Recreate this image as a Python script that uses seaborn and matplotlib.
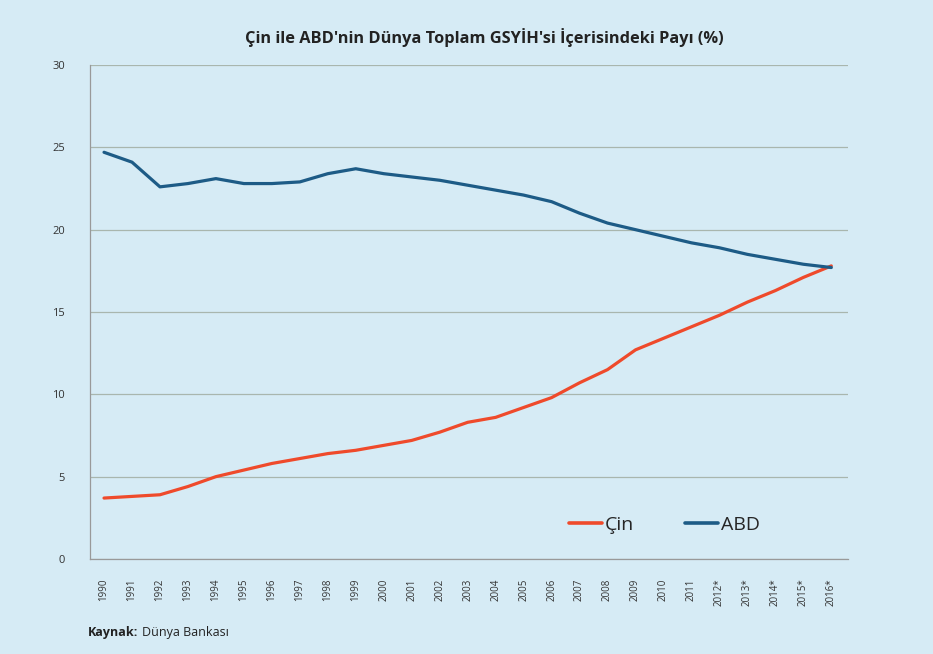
import pandas as pd
import seaborn as sns
import matplotlib.pyplot as plt
from matplotlib.lines import Line2D

# Data (share of world GDP, %)
years = list(range(1990, 2017))
year_labels = [str(y) for y in range(1990, 2012)] + ["2012*", "2013*", "2014*", "2015*", "2016*"]
cin = [3.7, 3.8, 3.9, 4.4, 5.0, 5.4, 5.8, 6.1, 6.4, 6.6, 6.9, 7.2, 7.7, 8.3, 8.6,
       9.2, 9.8, 10.7, 11.5, 12.7, 13.4, 14.1, 14.8, 15.6, 16.3, 17.1, 17.8]
abd = [24.7, 24.1, 22.6, 22.8, 23.1, 22.8, 22.8, 22.9, 23.4, 23.7, 23.4, 23.2, 23.0, 22.7, 22.4,
       22.1, 21.7, 21.0, 20.4, 20.0, 19.6, 19.2, 18.9, 18.5, 18.2, 17.9, 17.7]
y_ticks = [0, 5, 10, 15, 20, 25, 30]

title = "Çin ile ABD'nin Dünya Toplam GSYİH'si İçerisindeki Payı (%)"
series_names = ["Çin", "ABD"]
colors = {"Çin": "#ef4a2b", "ABD": "#1d5b86"}

df = pd.DataFrame({
    "year": years * 2,
    "value": cin + abd,
    "series": ["Çin"] * len(years) + ["ABD"] * len(years),
})

sns.set_style("white")
plt.rcParams["font.family"] = ["Open Sans", "DejaVu Sans"]

bg = "#d6ebf5"
fig = plt.figure(figsize=(9.33, 6.54), dpi=100, facecolor=bg)
ax = fig.add_axes([0.0965, 0.1453, 0.8125, 0.7553])
ax.set_facecolor(bg)

sns.lineplot(data=df, x="year", y="value", hue="series", palette=colors,
             linewidth=2.3, ax=ax, legend=False)

ax.set_xlim(1989.54, 2016.6)
ax.set_ylim(0, 30)
ax.set_yticks(y_ticks)
ax.set_yticklabels([str(v) for v in y_ticks], fontsize=8, color="#333333")
ax.set_xticks(years)
ax.set_xticklabels(year_labels, rotation=90, fontsize=7, color="#333333")
ax.set_xticks([y + 0.5 for y in range(1989, 2017)], minor=True)
ax.tick_params(axis="x", which="major", length=0, pad=14)
ax.tick_params(axis="x", which="minor", length=5, color="#999999", direction="out")
ax.tick_params(axis="y", length=6, color="#999999", pad=12)
ax.yaxis.grid(True, color="#a9b6ae", linewidth=0.9)
ax.set_axisbelow(True)
ax.set_xlabel("")
ax.set_ylabel("")

for s in ["top", "right"]:
    ax.spines[s].set_visible(False)
for s in ["left", "bottom"]:
    ax.spines[s].set_color("#999999")
    ax.spines[s].set_linewidth(0.9)

handles = [Line2D([], [], color=colors[n], linewidth=2.6) for n in series_names]
ax.legend(handles, series_names, loc="lower left", bbox_to_anchor=(0.609, 0.016),
          ncol=2, frameon=False, fontsize=14, handlelength=1.7, handletextpad=0.15,
          columnspacing=2.6)

fig.text(0.519, 0.943, title, ha="center", va="center", fontsize=11.8, fontweight="bold",
         color="#222222")
fig.text(0.094, 0.033, "Kaynak:", ha="left", va="center", fontsize=9, fontweight="bold",
         color="#222222")
fig.text(0.152, 0.033, "Dünya Bankası", ha="left", va="center", fontsize=9, color="#222222")

fig.savefig("out.png", dpi=100, facecolor=bg)
